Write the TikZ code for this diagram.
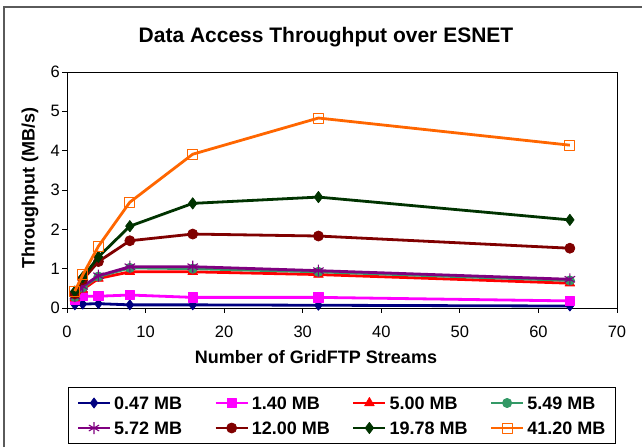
\documentclass[tikz,border=0pt]{standalone}
\usepackage{fontspec}
\setmainfont{Liberation Sans}
\usetikzlibrary{plotmarks}

\definecolor{navyc}{HTML}{000080}
\definecolor{magc}{HTML}{FF00FF}
\definecolor{redc}{HTML}{FF0000}
\definecolor{tealc}{HTML}{339966}
\definecolor{purc}{HTML}{800080}
\definecolor{dredc}{HTML}{800000}
\definecolor{dgreenc}{HTML}{003300}
\definecolor{orangec}{HTML}{FF6600}
\definecolor{framec}{HTML}{5A5A5A}

\tikzset{
  series/.style={line width=2.8pt, line join=round, mark options={solid, line width=0.8pt}},
  s047/.style={navyc, mark=diamond*, mark size=5pt},
  s140/.style={magc, mark=square*, mark size=4.6pt},
  s500/.style={redc, mark=triangle*, mark size=5.5pt},
  s549/.style={tealc, mark=*, mark size=4.6pt},
  s572/.style={purc, mark=asterisk, mark size=6pt, mark options={line width=1.1pt}},
  s1200/.style={dredc, mark=*, mark size=5pt},
  s1978/.style={dgreenc, mark=diamond*, mark size=5.6pt},
  s4120/.style={orangec, mark=square, mark size=5pt, mark options={line width=1pt}},
  ticklab/.style={font=\fontsize{16.5}{18}\selectfont},
  axislab/.style={font=\fontsize{18}{20}\selectfont\bfseries},
  leglab/.style={font=\fontsize{18}{20}\selectfont\bfseries, anchor=west, inner sep=0pt},
}

\begin{document}
\begin{tikzpicture}[x=1pt, y=1pt]
    \useasboundingbox (0,0) rectangle (642,447);

    % Outer frame (left and top only)
    \draw[line width=2pt, framec] (4,0) -- (4,439.5) -- (642,439.5);

    % Title
    \node (title) at (326,410) {\fontsize{21}{24}\selectfont\bfseries Data Access Throughput over ESNET};

    % Axis titles
    \node[axislab] (xlabel) at (316,90) {Number of GridFTP Streams};
    \node[axislab, rotate=90] (ylabel) at (30,259) {Throughput (MB/s)};

    \begin{scope}[shift={(67,139)}, x=7.857pt, y=39.33pt]
        % Plot area and ticks
        \draw[line width=0.8pt] (0,0) rectangle (70,6);
        \foreach \v in {0,...,6}{
            \draw[line width=0.8pt] (0,\v) -- (-0.65,\v);
            \node[ticklab, left, inner sep=2pt] (ytick\v) at (-0.65,\v) {\v};
        }
        \foreach \t in {0,10,...,70}{
            \draw[line width=0.8pt] (\t,0) -- (\t,-0.13);
            \node[ticklab] (xtick\t) at (\t,-0.61) {\t};
        }

        % Data series
        \draw[series, s047] plot coordinates {(1,0.08) (2,0.10) (4,0.11) (8,0.08) (16,0.08) (32,0.07) (64,0.05)};
        \draw[series, s140] plot coordinates {(1,0.20) (2,0.30) (4,0.30) (8,0.33) (16,0.27) (32,0.27) (64,0.18)};
        \draw[series, s500] plot coordinates {(1,0.25) (2,0.47) (4,0.75) (8,0.92) (16,0.92) (32,0.85) (64,0.63)};
        \draw[series, s549] plot coordinates {(1,0.28) (2,0.52) (4,0.80) (8,1.02) (16,1.00) (32,0.92) (64,0.70)};
        \draw[series, s572] plot coordinates {(1,0.30) (2,0.55) (4,0.82) (8,1.05) (16,1.05) (32,0.95) (64,0.73)};
        \draw[series, s1200] plot coordinates {(1,0.36) (2,0.72) (4,1.18) (8,1.71) (16,1.88) (32,1.83) (64,1.52)};
        \draw[series, s1978] plot coordinates {(1,0.42) (2,0.78) (4,1.30) (8,2.08) (16,2.66) (32,2.82) (64,2.24)};
        \draw[series, s4120] plot coordinates {(1,0.43) (2,0.84) (4,1.57) (8,2.69) (16,3.91) (32,4.83) (64,4.14)};
    \end{scope}

    % Legend
    \draw[line width=0.8pt] (68,4) rectangle (615,60);
    \foreach \s/\lab [count=\i from 0] in {s047/0.47 MB, s140/1.40 MB, s500/5.00 MB, s549/5.49 MB,
        s572/5.72 MB, s1200/12.00 MB, s1978/19.78 MB, s4120/41.20 MB}{
        \pgfmathsetmacro{\lx}{78 + 137.7*mod(\i,4)}
        \pgfmathsetmacro{\ly}{\i < 4 ? 44 : 19}
        \draw[series, \s, mark=none] (\lx,\ly) -- (\lx+32,\ly);
        \draw[series, \s] plot coordinates {(\lx+16,\ly)};
        \node[leglab] (leg\i) at (\lx+36,\ly) {\lab};
    }
\end{tikzpicture}
\end{document}
